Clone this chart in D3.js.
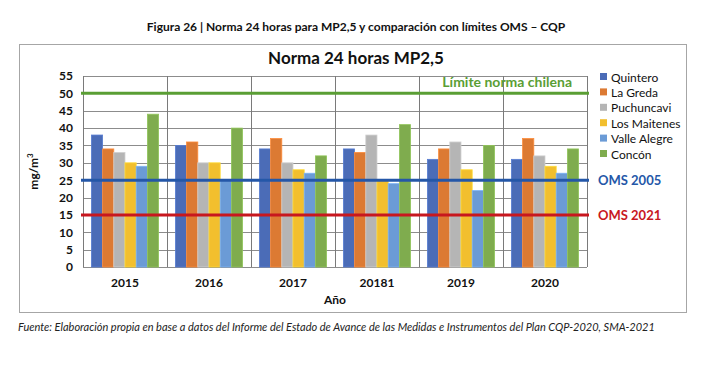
<!DOCTYPE html>
<html>
<head>
<meta charset="utf-8">
<script src="https://cdn.jsdelivr.net/npm/d3@7"></script>
<style>
  body { margin: 0; background: #fff; }
  svg { font-family: Lato, "Open Sans", sans-serif; }
</style>
</head>
<body>
<svg class="canvas" width="712" height="365"></svg>
<script>
const years = ["2015", "2016", "2017", "20181", "2019", "2020"];
const stations = ["Quintero", "La Greda", "Puchuncaví", "Los Maitenes", "Valle Alegre", "Concón"];
const legendNames = ["Quintero", "La Greda", "Puchuncavi", "Los Maitenes", "Valle Alegre", "Concón"];
const colors = ["#4b6cb7", "#dc7a33", "#b5b5b5", "#f2bf2e", "#6b9bd6", "#7fac4e"];

const quintero = [38, 35, 34, 34, 31, 31];
const laGreda = [34, 36, 37, 33, 34, 37];
const puchuncavi = [33, 30, 30, 38, 36, 32];
const losMaitenes = [30, 30, 28, 25, 28, 29];
const valleAlegre = [29, 25, 27, 24, 22, 27];
const concon = [44, 40, 32, 41, 35, 34];

const yTicks = [0, 5, 10, 15, 20, 25, 30, 35, 40, 45, 50, 55];
const refLines = [
  { value: 50, color: "#5a9e34", label: "Límite norma chilena" },
  { value: 25, color: "#2457a8", label: "OMS 2005" },
  { value: 15, color: "#c8171e", label: "OMS 2021" },
];

const series = [quintero, laGreda, puchuncavi, losMaitenes, valleAlegre, concon];
const data = years.map((yr, i) => ({
  year: yr,
  values: stations.map((s, j) => ({ station: s, value: series[j][i], color: colors[j] })),
}));

const svg = d3.select(".canvas");
const margin = { top: 76, left: 83, right: 125, bottom: 98 };
const width = 712 - margin.left - margin.right;
const height = 365 - margin.top - margin.bottom;

// figure caption and frame
svg.append("text")
  .attr("x", 356).attr("y", 31)
  .attr("text-anchor", "middle")
  .attr("font-size", 12).attr("font-weight", "bold")
  .attr("fill", "#111")
  .text("Figura 26 | Norma 24 horas para MP2,5 y comparación con límites OMS – CQP");

svg.append("rect")
  .attr("x", 19.5).attr("y", 44.5)
  .attr("width", 667).attr("height", 268)
  .attr("fill", "none").attr("stroke", "#a6a6a6");

svg.append("text")
  .attr("x", 356).attr("y", 64)
  .attr("text-anchor", "middle")
  .attr("font-size", 17).attr("font-weight", "bold")
  .attr("fill", "#111")
  .text("Norma 24 horas MP2,5");

svg.append("text")
  .attr("x", 18).attr("y", 331)
  .attr("font-size", 11).attr("font-style", "italic")
  .attr("fill", "#222")
  .text("Fuente: Elaboración propia en base a datos del Informe del Estado de Avance de las Medidas e Instrumentos del Plan CQP-2020, SMA-2021");

const graph = svg.append("g")
  .attr("transform", `translate(${margin.left}, ${margin.top})`);

const y = d3.scaleLinear().domain([0, 55]).range([height, 0]);
const x0 = d3.scaleBand()
  .domain(years)
  .range([0, width])
  .paddingInner(0.2)
  .paddingOuter(0.1);
const x1 = d3.scaleBand()
  .domain(stations)
  .range([0, x0.bandwidth()]);

// horizontal grid
graph.append("g")
  .selectAll("line")
  .data(yTicks)
  .enter().append("line")
  .attr("x1", 0).attr("x2", width)
  .attr("y1", (d) => Math.round(y(d)) + 0.5)
  .attr("y2", (d) => Math.round(y(d)) + 0.5)
  .attr("stroke", "#8c8c8c");

// vertical group separators
const step = x0.step();
const edges = d3.range(years.length + 1).map((i) => i * step);
graph.append("g")
  .selectAll("line")
  .data(edges)
  .enter().append("line")
  .attr("x1", (d) => Math.round(d) + 0.5).attr("x2", (d) => Math.round(d) + 0.5)
  .attr("y1", 0).attr("y2", height)
  .attr("stroke", "#7a7a7a");

// bars
const groups = graph.selectAll(".year")
  .data(data)
  .enter().append("g")
  .attr("transform", (d) => `translate(${x0(d.year)},0)`);

groups.selectAll("rect")
  .data((d) => d.values)
  .enter().append("rect")
  .attr("x", (d) => x1(d.station))
  .attr("width", x1.bandwidth())
  .attr("y", (d) => y(d.value))
  .attr("height", (d) => height - y(d.value))
  .attr("fill", (d) => d.color)
  .attr("stroke", (d) => d3.color(d.color).brighter(0.4))
  .attr("stroke-width", 0.8);

// reference lines
graph.append("g")
  .selectAll("line")
  .data(refLines)
  .enter().append("line")
  .attr("x1", -2).attr("x2", width + 2)
  .attr("y1", (d) => y(d.value)).attr("y2", (d) => y(d.value))
  .attr("stroke", (d) => d.color)
  .attr("stroke-width", 3);

graph.append("text")
  .attr("x", width - 15).attr("y", y(50) - 6)
  .attr("text-anchor", "end")
  .attr("font-size", 14).attr("font-weight", "bold")
  .attr("fill", "#5a9e34")
  .text(refLines[0].label);

graph.selectAll(".refLabel")
  .data(refLines.slice(1))
  .enter().append("text")
  .attr("x", width + 11)
  .attr("y", (d) => y(d.value) + 5)
  .attr("font-size", 13).attr("font-weight", "bold")
  .attr("fill", (d) => d.color)
  .text((d) => d.label);

// axes
const yAxis = d3.axisLeft(y).tickValues(yTicks).tickSize(0).tickPadding(10);
const yAxisGroup = graph.append("g").call(yAxis);
yAxisGroup.select(".domain").remove();
yAxisGroup.selectAll("text")
  .attr("font-size", 12).attr("font-weight", "bold")
  .attr("fill", "#111")
  .style("font-family", "Lato, sans-serif");

const xAxis = d3.axisBottom(x0).tickSize(0).tickPadding(11);
const xAxisGroup = graph.append("g")
  .attr("transform", `translate(0,${height})`)
  .call(xAxis);
xAxisGroup.select(".domain").remove();
xAxisGroup.selectAll("text")
  .attr("font-size", 12).attr("font-weight", "bold")
  .attr("fill", "#111")
  .style("font-family", "Lato, sans-serif");

graph.append("text")
  .attr("x", width / 2).attr("y", height + 37)
  .attr("text-anchor", "middle")
  .attr("font-size", 12).attr("font-weight", "bold")
  .attr("fill", "#111")
  .text("Año");

graph.append("text")
  .attr("transform", `translate(-45,${height / 2}) rotate(-90)`)
  .attr("text-anchor", "middle")
  .attr("font-size", 12).attr("font-weight", "bold")
  .attr("fill", "#111")
  .html("mg/m<tspan dy='-5' font-size='8'>3</tspan>");

// legend
const legend = svg.append("g")
  .attr("transform", "translate(600, 77)");
const items = legend.selectAll("g")
  .data(legendNames)
  .enter().append("g")
  .attr("transform", (d, i) => `translate(0, ${i * 15.4})`);
items.append("rect")
  .attr("x", 0).attr("y", -4)
  .attr("width", 7).attr("height", 7)
  .attr("fill", (d, i) => colors[i]);
items.append("text")
  .attr("x", 11).attr("y", 4.5)
  .attr("font-size", 12)
  .attr("fill", "#111")
  .text((d) => d);
</script>
</body>
</html>
